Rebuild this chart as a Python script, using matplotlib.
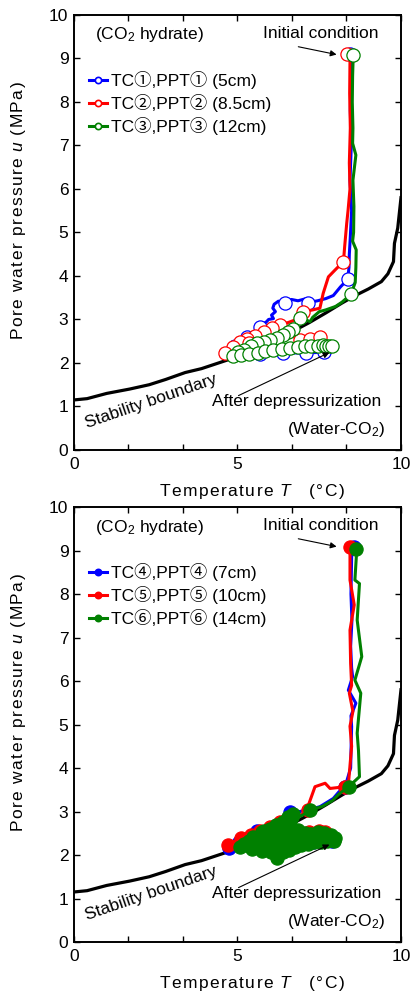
"""Pore water pressure vs temperature paths for CO2 hydrate depressurization."""

import matplotlib

matplotlib.use("Agg")
import matplotlib.pyplot as plt
from matplotlib.lines import Line2D
from matplotlib.ticker import MultipleLocator

plt.rcParams["font.family"] = ["Liberation Sans", "Noto Sans CJK JP", "DejaVu Sans"]
plt.rcParams["mathtext.fontset"] = "custom"
plt.rcParams["mathtext.rm"] = "Liberation Sans"
plt.rcParams["mathtext.it"] = "Liberation Sans:italic"

# hydrate stability boundary (Water-CO2)
boundary_T = [0.0, 0.4, 1.0, 1.7, 2.3, 2.8, 3.4, 3.9, 4.3, 4.7, 5.2, 5.7, 6.2,
              6.7, 7.2, 7.7, 8.2, 8.6, 9.0, 9.4, 9.6, 9.77, 9.8, 9.9, 10.0]
boundary_u = [1.15, 1.18, 1.30, 1.40, 1.50, 1.62, 1.78, 1.87, 1.97, 2.07, 2.22,
              2.38, 2.53, 2.73, 2.93, 3.15, 3.38, 3.55, 3.70, 3.87, 4.05, 4.33,
              4.75, 5.10, 5.80]

# upper panel: TC1-3 / PPT1-3
tc1_T = [8.45, 8.47, 8.45, 8.48, 8.44, 8.49, 8.45, 8.42, 8.41, 8.37, 8.15, 7.93,
         7.70, 7.45, 7.17, 7.05, 6.85, 6.65, 6.45, 6.25, 6.12, 6.08, 6.16, 6.04,
         6.10, 5.95, 5.89, 5.69, 5.50, 5.30, 5.10, 4.92, 4.78, 5.00, 5.35, 5.70,
         6.05, 6.40, 6.75, 7.10, 7.40, 7.65, 7.85]
tc1_u = [9.10, 8.50, 7.80, 7.00, 6.20, 5.50, 4.90, 4.50, 4.20, 3.92, 3.75, 3.55,
         3.48, 3.43, 3.39, 3.47, 3.43, 3.46, 3.39, 3.42, 3.35, 3.26, 3.18, 3.10,
         3.02, 3.00, 2.95, 2.83, 2.70, 2.60, 2.50, 2.38, 2.24, 2.20, 2.20, 2.21,
         2.22, 2.22, 2.23, 2.23, 2.24, 2.25, 2.27]
tc1_marks = [0, 9, 14, 18, 27, 29, 31, 33, 35, 37, 39, 41]

tc2_T = [8.34, 8.44, 8.43, 8.45, 8.42, 8.44, 8.38, 8.34, 8.28, 8.24, 8.00, 7.78,
         7.62, 7.52, 7.30, 7.01, 6.80, 6.55, 6.30, 6.05, 5.80, 5.55, 5.30, 5.08,
         4.85, 4.62, 4.95, 5.35, 5.75, 6.15, 6.55, 6.90, 7.22, 7.52, 7.75]
tc2_u = [9.10, 8.95, 8.20, 7.40, 6.60, 6.00, 5.50, 5.21, 4.70, 4.33, 4.15, 3.98,
         3.60, 3.26, 3.22, 3.18, 3.00, 2.93, 2.87, 2.80, 2.72, 2.62, 2.55, 2.49,
         2.36, 2.22, 2.40, 2.45, 2.47, 2.48, 2.50, 2.53, 2.54, 2.59, 2.48]
tc2_marks = [0, 9, 15, 18, 19, 20, 21, 22, 23, 24, 25, 27, 29, 30, 31, 32, 33]

tc3_T = [8.54, 8.52, 8.51, 8.53, 8.52, 8.62, 8.53, 8.56, 8.55, 8.52, 8.63, 8.62,
         8.60, 8.47, 8.20, 8.00, 7.70, 7.50, 7.30, 7.22, 7.05, 6.91, 6.80, 6.70,
         6.55, 6.40, 6.20, 6.00, 5.80, 5.59, 5.40, 5.20, 5.03, 4.87, 5.10, 5.35,
         5.64, 5.85, 6.10, 6.35, 6.60, 6.85, 7.06, 7.25, 7.45, 7.60, 7.70, 7.80,
         7.88]
tc3_u = [9.08, 8.60, 8.00, 7.40, 7.05, 6.78, 6.20, 5.60, 5.00, 4.80, 4.60, 4.20,
         3.85, 3.58, 3.40, 3.30, 3.22, 3.18, 3.05, 2.95, 3.00, 3.03, 2.85, 2.78,
         2.72, 2.64, 2.58, 2.53, 2.48, 2.45, 2.38, 2.30, 2.25, 2.16, 2.18, 2.20,
         2.24, 2.27, 2.30, 2.32, 2.34, 2.36, 2.38, 2.39, 2.40, 2.41, 2.40, 2.39,
         2.38]
tc3_marks = [0, 13, 21] + list(range(23, 49))

# lower panel: TC4-6 / PPT4-6
tc4_T = [8.56, 8.49, 8.47, 8.50, 8.46, 8.49, 8.52, 8.39, 8.62, 8.47, 8.49, 8.46,
         8.29, 8.10, 7.93, 7.52, 7.20, 6.91, 6.61, 6.45, 6.20, 5.90, 5.60, 5.30,
         5.05, 4.75, 5.00, 5.40, 5.80, 6.30, 6.80, 7.30, 7.70, 7.90]
tc4_u = [9.09, 8.85, 8.00, 7.40, 6.80, 6.30, 6.10, 5.79, 5.49, 5.20, 4.95, 4.00,
         3.57, 3.45, 3.30, 3.11, 3.05, 3.00, 3.00, 2.85, 2.70, 2.62, 2.55, 2.45,
         2.30, 2.17, 2.15, 2.18, 2.22, 2.25, 2.28, 2.30, 2.30, 2.32]
tc4_marks = [0, 12, 18, 22, 24, 25, 27, 29, 31, 33]

tc5_T = [8.44, 8.44, 8.57, 8.44, 8.46, 8.49, 8.42, 8.53, 8.44, 8.49, 8.40, 8.29,
         7.83, 7.68, 7.37, 7.17, 7.17, 6.90, 6.60, 6.30, 6.00, 5.70, 5.40, 5.10,
         4.72, 5.00, 5.40, 5.80, 6.30, 6.80, 7.20, 7.50, 7.68, 7.80]
tc5_u = [9.09, 8.32, 7.75, 7.17, 6.40, 5.90, 5.72, 5.30, 4.96, 4.50, 3.70, 3.57,
         3.53, 3.65, 3.57, 3.15, 3.03, 2.90, 2.82, 2.75, 2.65, 2.55, 2.47, 2.40,
         2.23, 2.33, 2.38, 2.42, 2.45, 2.48, 2.52, 2.55, 2.54, 2.45]
tc5_marks = [0, 11, 16, 19, 20, 21, 22, 23, 24, 26, 28, 30, 31, 32]

tc6_T = [8.62, 8.64, 8.59, 8.73, 8.66, 8.80, 8.59, 8.77, 8.66, 8.70, 8.73, 8.40,
         8.10, 7.90, 7.60, 7.22, 7.00, 6.80,
         6.70, 6.62, 6.55, 6.45, 6.38, 6.30, 6.18, 6.10, 5.98, 5.88, 5.75, 5.62,
         5.48, 5.35, 5.20, 5.08,
         5.25, 5.45, 5.60, 5.75, 5.90, 6.02, 6.12, 6.22, 6.30, 6.40, 6.50, 6.58,
         6.68, 6.75, 6.85, 6.95, 7.05, 7.15, 7.25, 7.35, 7.45, 7.55, 7.65, 7.75,
         7.85, 7.95, 7.98,
         7.60, 7.20, 6.90, 6.60, 6.40, 6.20, 6.00, 5.80, 5.60, 5.80, 6.10, 6.40,
         6.70, 7.00, 7.40, 7.80]
tc6_u = [9.03, 8.93, 8.32, 8.24, 7.40, 6.56, 6.02, 5.72, 4.80, 4.40, 3.80, 3.57,
         3.40, 3.25, 3.12, 3.03, 2.92, 2.85,
         2.95, 2.78, 2.88, 2.68, 2.76, 2.60, 2.68, 2.52, 2.60, 2.46, 2.54, 2.42,
         2.41, 2.32, 2.26, 2.19,
         2.22, 2.14, 2.28, 2.10, 2.35, 2.06, 2.50, 1.92, 2.42, 2.08, 2.62, 2.12,
         2.88, 2.18, 2.58, 2.22, 2.50, 2.26, 2.48, 2.30, 2.52, 2.30, 2.50, 2.32,
         2.46, 2.33, 2.40,
         2.40, 2.36, 2.40, 2.30, 2.50, 2.30, 2.45, 2.30, 2.38, 2.55, 2.35, 2.30,
         2.45, 2.35, 2.42, 2.38]
tc6_marks = [0, 11, 15] + list(range(18, 77))

upper_labels = ["TC\u2460,PPT\u2460 (5cm)", "TC\u2461,PPT\u2461 (8.5cm)",
                "TC\u2462,PPT\u2462 (12cm)"]
lower_labels = ["TC\u2463,PPT\u2463 (7cm)", "TC\u2464,PPT\u2464 (10cm)",
                "TC\u2465,PPT\u2465 (14cm)"]
colors = ["#0000ff", "#ff0000", "#008000"]

FS = 12.5
HAIR = "\u200a"


def spread(text):
    # the original labels are letter-spaced
    return HAIR.join(text)


XLABEL = spread("Temperature ") + "$\\mathit{T}$" + spread("   (\u00b0C)")
YLABEL = spread("Pore water pressure ") + "$\\mathit{u}$" + spread(" (MPa)")


def draw_panel(ax, series, labels, filled):
    ax.plot(boundary_T, boundary_u, color="black", lw=2.3, zorder=2)
    handles = []
    for (T, u, marks), label, color in zip(series, labels, colors):
        face = color if filled else "white"
        ax.plot(T, u, color=color, lw=2.2, marker="o", markevery=marks,
                markersize=9.5, markerfacecolor=face, markeredgecolor=color,
                markeredgewidth=0.9, zorder=3)
        handles.append(Line2D([], [], color=color, lw=2.2, marker="o",
                              markersize=4.5, markerfacecolor=face,
                              markeredgecolor=color, markeredgewidth=1.2,
                              label=label))
    ax.legend(handles=handles, loc="upper left", bbox_to_anchor=(0.045, 0.872),
              frameon=False, fontsize=FS, handlelength=1.05, handletextpad=0.25,
              labelspacing=0.3, borderpad=0, borderaxespad=0)

    ax.text(0.64, 9.54, "(CO$_2$ hydrate)", fontsize=FS, va="center")
    ax.text(7.54, 9.58, "Initial condition", fontsize=FS, ha="center", va="center")
    ax.annotate("", xy=(8.03, 9.09), xytext=(6.86, 9.27),
                arrowprops=dict(arrowstyle="-|>", color="black", lw=0.8,
                                mutation_scale=9, shrinkA=0, shrinkB=0))
    ax.text(2.37, 1.11, "Stability boundary", fontsize=FS, ha="center",
            va="center", rotation=19, rotation_mode="anchor")
    ax.text(4.23, 1.11, "After depressurization", fontsize=FS, va="center")
    ax.text(9.51, 0.46, "(Water-CO$_2$)", fontsize=FS, ha="right", va="center")
    ax.annotate("", xy=(7.81, 2.24), xytext=(5.03, 1.25),
                arrowprops=dict(arrowstyle="-|>", color="black", lw=0.8,
                                mutation_scale=9, shrinkA=0, shrinkB=0))

    ax.set_xlim(0, 10)
    ax.set_ylim(0, 10)
    ax.xaxis.set_major_locator(MultipleLocator(5))
    ax.xaxis.set_minor_locator(MultipleLocator(5 / 3))
    ax.yaxis.set_major_locator(MultipleLocator(1))
    ax.tick_params(which="both", direction="in", top=True, right=True,
                   length=4, width=1.0, labelsize=FS)
    ax.tick_params(axis="x", pad=5)
    ax.tick_params(axis="y", pad=4)
    for spine in ax.spines.values():
        spine.set_linewidth(1.4)
    ax.set_xlabel(XLABEL, fontsize=12.5)
    ax.set_ylabel(YLABEL, fontsize=12.5)
    ax.xaxis.set_label_coords(0.543, -0.074)
    ax.yaxis.set_label_coords(-0.14, 0.55)


fig = plt.figure(figsize=(4.12, 9.92), dpi=100)
ax_top = fig.add_axes([0.1796, 0.5464, 0.7937, 0.4385])
ax_bot = fig.add_axes([0.1796, 0.0504, 0.7937, 0.4385])

draw_panel(ax_top, [(tc1_T, tc1_u, tc1_marks), (tc2_T, tc2_u, tc2_marks),
                    (tc3_T, tc3_u, tc3_marks)], upper_labels, filled=False)
draw_panel(ax_bot, [(tc4_T, tc4_u, tc4_marks), (tc5_T, tc5_u, tc5_marks),
                    (tc6_T, tc6_u, tc6_marks)], lower_labels, filled=True)

fig.savefig("out.png", dpi=100)
